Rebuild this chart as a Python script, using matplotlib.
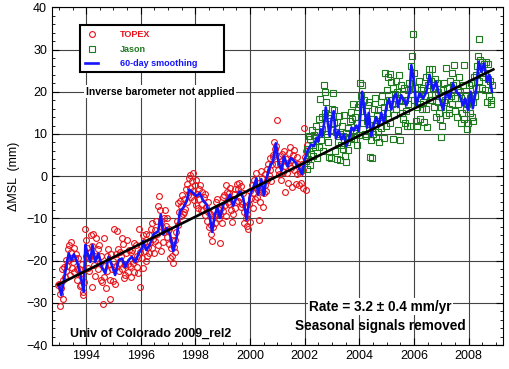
import numpy as np
import matplotlib
matplotlib.use('Agg')
import matplotlib.pyplot as plt
from matplotlib.ticker import MultipleLocator
from matplotlib.lines import Line2D
from matplotlib.patches import Rectangle

plt.rcParams['font.family'] = ['Liberation Sans', 'DejaVu Sans']

# 10-day repeat cycle, values in mm
cycle = 10.0 / 365.25
topex_start = 1992.97
jason_start = 2002.04

topex_mm = [
    -25.8, -25.5, -30.8, -27.9, -26.4, -22.0, -29.0, -24.5, -21.5, -23.8, -19.8, -22.4,
    -21.3, -17.2, -16.2, -19.8, -23.5, -18.0, -15.5, -21.8, -20.4, -17.0, -22.6, -19.3,
    -18.4, -21.9, -24.6, -19.5, -22.0, -26.0, -23.2, -25.8, -20.8, -27.5, -28.2, -25.0,
    -12.6, -15.1, -19.0, -17.0, -21.8, -19.5, -22.4, -18.0, -14.0, -26.2, -16.5, -13.8,
    -21.0, -18.8, -23.6, -14.7, -19.5, -17.2, -22.0, -16.4, -20.5, -24.5, -19.0, -25.0,
    -30.3, -24.0, -14.7, -21.3, -26.5, -22.4, -19.0, -17.2, -20.8, -24.6, -29.1, -18.5,
    -22.0, -20.2, -24.8, -12.4, -25.5, -21.6, -18.4, -13.1, -17.3, -22.5, -20.6, -18.0,
    -19.0, -22.0, -14.7, -16.0, -24.2, -21.0, -23.5, -18.2, -15.2, -20.8, -22.6, -17.6,
    -21.2, -18.0, -24.0, -17.5, -20.6, -15.8, -22.8, -19.8, -16.4, -21.5, -18.8, -23.0,
    -12.6, -18.0, -26.3, -16.2, -19.4, -14.0, -21.7, -15.5, -17.8, -20.1, -13.6, -19.0,
    -16.8, -14.0, -18.2, -15.6, -12.5, -17.0, -11.0, -14.8, -18.2, -12.8, -15.4, -10.6,
    -13.8, -16.4, -7.1, -4.6, -8.0, -10.5, -17.8, -12.0, -15.5, -10.0, -13.2, -7.9,
    -11.8, -14.5, -9.8, -13.0, -16.0, -12.5, -19.4, -17.0, -15.2, -19.0, -20.5, -16.8,
    -15.0, -18.0, -13.2, -10.5, -6.4, -11.5, -8.6, -5.8, -9.5, -7.0, -4.5, -9.0,
    -8.5, -5.5, -7.8, -3.0, -6.2, -1.8, -4.5, -0.4, 0.2, -2.8, -5.0, -1.2,
    0.8, -3.5, -5.6, -2.2, -6.8, -1.0, -4.2, -7.5, -3.0, -5.5, -2.0, -8.0,
    -6.5, -3.8, -8.0, -5.0, -9.2, -4.2, -7.4, -10.5, -6.0, -8.6, -12.0, -9.0,
    -11.5, -13.8, -15.4, -12.0, -9.5, -8.0, -11.0, -6.2, -9.0, -5.5, -7.8, -10.0,
    -15.8, -9.0, -7.5, -11.2, -5.0, -8.2, -4.5, -6.8, -2.0, -9.5, -3.8, -6.0,
    -4.0, -6.5, -2.8, -8.0, -10.9, -5.5, -9.0, -4.2, -7.6, -3.0, -6.2, -1.8,
    -5.8, -3.0, -1.5, -5.0, -7.2, -2.4, -6.6, -4.0, -8.5, -11.0, -7.0, -9.8,
    -11.9, -9.0, -12.5, -6.5, -3.5, -10.8, -5.2, -2.0, -7.5, -4.0, -1.0, -5.5,
    -2.5, 0.8, -5.0, -3.2, -10.3, -1.5, -6.0, 1.2, -3.8, -0.5, -7.2, -4.0,
    -2.0, 0.5, -3.5, 1.8, -0.8, 3.0, 0.2, 4.2, 1.5, -1.2, 2.8, 5.0,
    4.5, 8.0, 6.5, 3.0, 7.2, 13.3, 1.5, 4.8, 0.5, 2.8, -1.0, 3.6,
    5.2, 1.0, 6.0, 2.5, -3.8, 4.0, 0.8, 3.2, -1.5, 5.5, 6.8, 2.0,
    3.8, -2.5, 5.0, 1.5, 6.2, 2.8, -1.8, 4.5, 0.5, 3.0, -2.2, 1.2,
    0.8, -1.7, 3.0, -2.7, 1.5, 11.4, 4.5, -3.3, 6.0, 7.5,
]

jason_mm = [
    3.5, 1.7, 6.5, 4.0, 9.5, 2.6, 8.8, 5.2, 11.0, 7.5, 4.8, 9.8,
    6.8, 12.0, 9.0, 4.2, 10.5, 7.0, 13.5, 18.3, 8.5, 14.0, 11.2, 6.0,
    21.7, 15.0, 20.0, 17.5, 10.0, 13.8, 8.2, 4.5, 14.5, 11.0, 4.3, 16.0,
    19.7, 15.6, 12.5, 6.0, 10.5, 4.0, 12.8, 8.0, 14.2, 10.0, 3.8, 7.5,
    12.0, 6.5, 9.5, 14.5, 4.8, 10.2, 3.3, 8.0, 11.5, 6.2, 9.0, 13.0,
    15.2, 9.0, 13.5, 17.0, 11.0, 8.7, 14.0, 10.2, 7.5, 12.5, 16.5, 9.8,
    22.1, 17.0, 19.0, 21.5, 14.0, 12.5, 18.0, 10.0, 15.5, 9.5, 13.0, 16.8,
    17.5, 11.0, 4.6, 8.5, 4.3, 13.5, 10.0, 16.0, 12.0, 18.5, 9.2, 14.5,
    10.5, 15.8, 8.0, 13.0, 17.5, 11.5, 19.0, 14.0, 9.0, 16.5, 24.4, 12.0,
    20.5, 15.0, 23.5, 18.0, 12.5, 24.2, 22.3, 17.0, 8.8, 21.0, 14.5, 19.5,
    16.0, 22.5, 20.0, 10.9, 24.0, 18.0, 8.5, 21.5, 15.0, 17.8, 13.5, 20.8,
    12.5, 18.0, 15.5, 11.8, 20.5, 17.0, 22.0, 12.0, 19.5, 26.0, 28.5, 33.8,
    24.5, 18.0, 21.0, 13.0, 16.5, 12.0, 19.5, 22.5, 17.0, 13.5, 20.5, 16.0,
    21.0, 17.5, 12.8, 19.0, 23.5, 16.0, 11.7, 21.5, 25.5, 24.0, 18.0, 22.5,
    18.0, 25.5, 21.0, 16.5, 23.0, 19.5, 14.0, 22.0, 17.5, 20.0, 15.0, 13.5,
    9.2, 16.5, 12.0, 20.5, 17.5, 22.0, 18.0, 25.7, 14.5, 21.0, 19.5, 16.0,
    15.0, 22.5, 19.0, 24.5, 17.0, 21.5, 26.3, 18.5, 15.5, 22.0, 14.0, 20.5,
    17.0, 23.5, 20.0, 12.5, 18.5, 15.0, 21.5, 13.5, 26.3, 19.0, 16.0, 11.3,
    17.0, 12.5, 21.5, 15.0, 18.5, 22.0, 14.0, 17.5, 13.0, 23.5, 19.0, 21.0,
    24.0, 26.0, 28.5, 32.6, 22.5, 27.5, 25.0, 21.0, 27.0, 23.5, 26.5, 24.5,
    20.5, 27.0, 17.6, 23.0, 26.7, 19.0, 22.5, 17.0, 18.0, 21.5,
]

# 60-day smoothed curve, vertices
smooth_years = [
    1993.00, 1993.09, 1993.24, 1993.36, 1993.46, 1993.55, 1993.67, 1993.79, 1993.91, 1993.97,
    1994.05, 1994.15, 1994.23, 1994.33, 1994.45, 1994.57, 1994.70, 1994.82, 1994.94, 1995.06,
    1995.19, 1995.31, 1995.43, 1995.55, 1995.67, 1995.80, 1995.92, 1996.04, 1996.09, 1996.20,
    1996.33, 1996.46, 1996.64, 1996.73, 1996.82, 1996.95, 1997.07, 1997.19, 1997.31, 1997.43,
    1997.55, 1997.68, 1997.77, 1997.92, 1998.04, 1998.16, 1998.29, 1998.41, 1998.53, 1998.61,
    1998.71, 1998.80, 1998.90, 1999.02, 1999.14, 1999.26, 1999.38, 1999.50, 1999.62, 1999.75,
    1999.87, 2000.00, 2000.11, 2000.23, 2000.29, 2000.41, 2000.50, 2000.60, 2000.72, 2000.84,
    2000.94, 2001.04, 2001.15, 2001.24, 2001.37, 2001.49, 2001.63, 2001.76, 2001.90, 2002.00,
    2002.12, 2002.24, 2002.34, 2002.43, 2002.49, 2002.59, 2002.64, 2002.71, 2002.77, 2002.85,
    2002.91, 2002.98, 2003.06, 2003.14, 2003.24, 2003.34, 2003.44, 2003.52, 2003.62, 2003.71,
    2003.80, 2003.89, 2003.98, 2004.05, 2004.10, 2004.19, 2004.28, 2004.34, 2004.44, 2004.54,
    2004.62, 2004.71, 2004.80, 2004.90, 2004.99, 2005.08, 2005.17, 2005.27, 2005.35, 2005.41,
    2005.53, 2005.72, 2005.84, 2005.90, 2006.00, 2006.08, 2006.20, 2006.33, 2006.45, 2006.57,
    2006.69, 2006.81, 2006.94, 2007.06, 2007.18, 2007.30, 2007.42, 2007.55, 2007.67, 2007.79,
    2007.87, 2007.97, 2008.07, 2008.15, 2008.28, 2008.36, 2008.46, 2008.56, 2008.68, 2008.76,
    2008.85,
]
smooth_mm = [
    -25.6, -28.2, -22.6, -18.3, -19.9, -18.5, -20.3, -23.4, -27.4, -16.3,
    -18.3, -20.3, -16.3, -20.3, -18.3, -21.5, -23.0, -19.1, -21.1, -23.4,
    -19.9, -19.5, -21.5, -19.9, -19.1, -20.3, -18.3, -17.1, -15.4, -17.5,
    -16.2, -13.8, -13.0, -9.1, -13.8, -12.3, -13.8, -17.8, -14.6, -8.3,
    -7.5, -5.9, -3.2, -4.0, -4.7, -4.0, -5.9, -6.7, -9.9, -13.2,
    -9.1, -7.5, -9.9, -6.7, -5.9, -4.4, -7.0, -5.0, -3.6, -5.2,
    -10.3, -4.4, -2.8, -0.5, -4.4, -0.7, -4.5, -0.5, 2.3, 3.5,
    7.8, 3.3, 1.3, 4.7, 2.3, 4.3, 3.5, 2.3, 0.5, 4.0,
    6.3, 7.5, 7.1, 9.1, 8.2, 11.1, 9.5, 12.6, 16.3, 12.5,
    9.5, 13.5, 15.4, 9.0, 10.8, 8.7, 9.9, 7.1, 8.7, 11.5,
    10.8, 12.0, 10.7, 15.4, 20.0, 15.5, 11.5, 15.0, 9.5, 12.6,
    14.0, 11.8, 15.0, 12.6, 16.6, 18.3, 15.8, 19.0, 19.5, 16.4,
    19.2, 16.8, 20.0, 26.3, 22.4, 16.8, 19.6, 18.4, 20.0, 24.0,
    20.4, 22.4, 18.4, 15.7, 20.0, 18.4, 22.0, 20.0, 19.2, 16.8,
    18.4, 15.7, 20.0, 16.1, 20.8, 27.1, 24.7, 26.7, 22.4, 24.0,
    20.0,
]

# linear trend, 3.2 mm/yr
trend_years = [1992.97, 2008.90]
trend_mm = [-25.7, 25.3]

topex_t = topex_start + cycle * np.arange(len(topex_mm))
jason_t = jason_start + cycle * np.arange(len(jason_mm))

red = '#e8141c'
green = '#1f7a1f'
blue = '#1414ff'

fig = plt.figure(figsize=(5.10, 3.69), dpi=100)
ax = fig.add_axes([0.102, 0.065, 0.884, 0.915])

ax.plot(topex_t, topex_mm, 'o', ms=4.2, mfc='none', mec=red, mew=0.8, zorder=3)
ax.plot(jason_t, jason_mm, 's', ms=3.9, mfc='none', mec=green, mew=0.8, zorder=3)
ax.plot(smooth_years, smooth_mm, '-', color=blue, lw=1.9, zorder=4)
ax.plot(trend_years, trend_mm, '-', color='black', lw=1.9, zorder=5)

ax.set_xlim(1992.75, 2009.25)
ax.set_ylim(-40, 40)
ax.xaxis.set_major_locator(MultipleLocator(2))
ax.xaxis.set_minor_locator(MultipleLocator(0.5))
ax.yaxis.set_major_locator(MultipleLocator(10))
ax.yaxis.set_minor_locator(MultipleLocator(2))
ax.tick_params(which='both', direction='in', top=True, right=True, labelsize=9)
ax.tick_params(which='major', length=5, width=0.8)
ax.tick_params(which='minor', length=2.5, width=0.6)
ax.grid(True, which='major', color='#444444', lw=0.8)
ax.set_axisbelow(True)
for s in ax.spines.values():
    s.set_linewidth(0.8)
ax.set_ylabel('\u0394MSL  (mm)', fontsize=9, labelpad=4)

# legend box
ax.add_patch(Rectangle((0.062, 0.809), 0.319, 0.139, transform=ax.transAxes,
                       facecolor='white', edgecolor='black', lw=1.5, zorder=6))
handles = [
    Line2D([], [], ls='none', marker='o', ms=4.2, mfc='none', mec=red, mew=0.8),
    Line2D([], [], ls='none', marker='s', ms=3.9, mfc='none', mec=green, mew=0.8),
    Line2D([], [], color=blue, lw=1.9),
]
leg = ax.legend(handles, ['TOPEX', 'Jason', '60-day smoothing'],
                loc='upper left', bbox_to_anchor=(0.062, 0.948), frameon=False,
                prop={'weight': 'bold', 'size': 6.5},
                handlelength=1.4, handletextpad=2.4, borderpad=0.6,
                labelspacing=0.6, borderaxespad=0)
for txt, c in zip(leg.get_texts(), [red, green, blue]):
    txt.set_color(c)
leg.set_zorder(7)

ax.text(1996.7, 20, 'Inverse barometer not applied', ha='center', va='center',
        fontsize=7.5, fontweight='bold',
        bbox=dict(facecolor='white', edgecolor='none', pad=1), zorder=2)
ax.text(1993.41, -37.4, 'Univ of Colorado 2009_rel2', ha='left', va='center',
        fontsize=9, fontweight='bold')
ax.text(2004.78, -30.9, 'Rate = 3.2 \u00b1 0.4 mm/yr', ha='center', va='center',
        fontsize=9.8, fontweight='bold',
        bbox=dict(facecolor='white', edgecolor='none', pad=1), zorder=2)
ax.text(2004.78, -35.4, 'Seasonal signals removed', ha='center', va='center',
        fontsize=9.8, fontweight='bold')

fig.savefig('out.png', dpi=100)
